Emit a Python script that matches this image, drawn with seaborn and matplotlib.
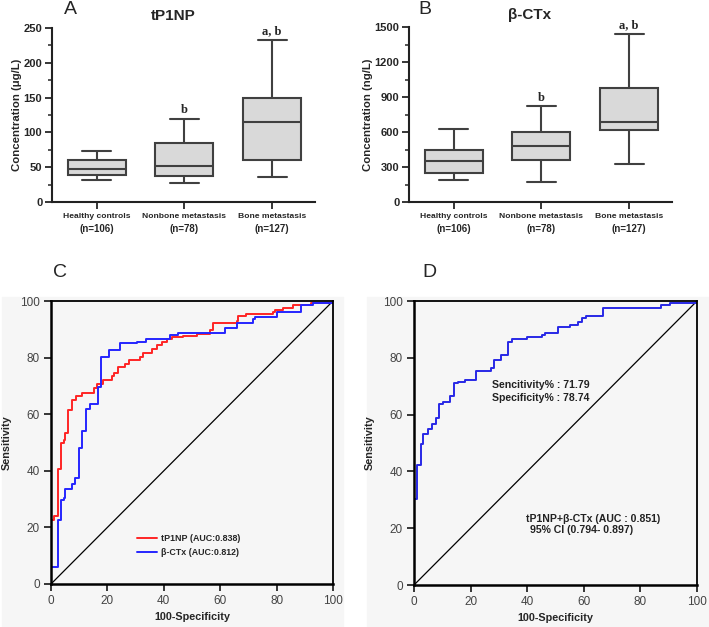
import numpy as np
import pandas as pd
import seaborn as sns
import matplotlib.pyplot as plt
from matplotlib.patches import Rectangle

# ---- data ----
groups = ["Healthy controls", "Nonbone metastasis", "Bone metastasis"]
group_n = ["(n=106)", "(n=78)", "(n=127)"]

# five-number summaries per group: min, Q1, median, Q3, max
tp1np_healthy = [32, 39, 47, 60, 73.5]
tp1np_nonbone = [26.6, 37.7, 51.7, 84.6, 119]
tp1np_bone = [35.6, 60.6, 115, 150, 233]

ctx_healthy = [186, 252, 355, 450, 624]
ctx_nonbone = [169, 361, 481, 596, 819]
ctx_bone = [326, 613, 687, 979, 1443]

# significance marks above each group
tp1np_marks = ["", "b", "a, b"]
ctx_marks = ["", "b", "a, b"]

# ROC curves (100-specificity, sensitivity)
tp1np_fpr = [0, 0, 0.9, 2.4, 3.5, 4.5, 5.0, 6.0, 7.4, 9.0, 11, 15.1, 16.3, 18.6, 21.6, 22.5,
             23.9, 26.3, 27.5, 31.6, 32.8, 35.7, 37.5, 39.3, 41, 42.8, 46.9, 51.7, 56.4, 57.5,
             65.8, 66.4, 69.3, 78.8, 79.4, 82.3, 85.8, 92.3, 100]
tp1np_tpr = [0, 22.6, 24, 40.6, 49.9, 50.8, 53.2, 61.4, 65, 66.4, 67.5, 69.4, 70.8, 72.2, 73.4,
             74.6, 76.7, 77.9, 79.1, 80.2, 81.6, 83.2, 84.4, 85.5, 86.7, 87.2, 87.6, 88.4, 89.8,
             92.1, 93, 94.7, 95.3, 96, 96.8, 97.6, 98.5, 99.2, 100]

ctx_fpr = [0, 0, 2.4, 3.7, 4.5, 5.1, 7.4, 8.6, 9.8, 11, 12.5, 13.9, 16.5, 17.7, 20.4, 24.3,
           30.4, 33.6, 42.2, 45.2, 61.7, 66, 71.7, 72.2, 80, 88.8, 92.9, 100]
ctx_tpr = [0, 6.1, 22.6, 29.6, 30.5, 33.6, 35.3, 37.6, 47.9, 54.1, 61.8, 63.5, 69.6, 80.1, 82.7,
           85.1, 85.6, 86.5, 88, 88.8, 90.4, 92.1, 93.5, 94.5, 96, 98.5, 99.2, 100]

comb_fpr = [0, 0, 0.9, 2.4, 3.3, 5.1, 6.2, 7.6, 8.8, 10.1, 12.7, 14.1, 15.4, 18, 21.9, 27.1,
            28.2, 30.7, 33.3, 34.5, 39.8, 45.1, 46.2, 50.9, 55.1, 57.8, 59.2, 60.9, 66.8, 87.4,
            90.4, 100]
comb_tpr = [0, 30.4, 42.3, 49.6, 53.2, 54.9, 56.6, 58.9, 63.6, 64.6, 66.7, 71, 71.6, 72.2, 75.4,
            76.3, 79.4, 80.9, 85.4, 86.5, 87.4, 88, 88.8, 90.7, 91.5, 92.7, 93.9, 94.7, 97.4,
            98.6, 99.2, 100]
chance = [0, 100]

sns.set_style("ticks")
plt.rcParams['font.family'] = ['Liberation Sans', 'DejaVu Sans']

W, H = 709, 627
fig = plt.figure(figsize=(W / 100, H / 100), dpi=100)


def px_axes(l, t, r, b):
    return fig.add_axes([l / W, 1 - b / H, (r - l) / W, (b - t) / H])


# grey backgrounds behind the ROC panels
panel_bg = "#f6f6f6"
fig.patches.append(Rectangle((2 / W, 0), 341 / W, 330 / H, transform=fig.transFigure,
                             color=panel_bg, zorder=-10))
fig.patches.append(Rectangle((367 / W, 0), 342 / W, 330 / H, transform=fig.transFigure,
                             color=panel_bg, zorder=-10))


def box_panel(ax, stats, marks, ymax, ystep, title, ylabel, ylab_x):
    df = pd.DataFrame({
        "group": np.repeat(groups, 5),
        "value": np.concatenate(stats),
    })
    sns.boxplot(data=df, x="group", y="value", order=groups, whis=(0, 100), width=0.66,
                color="#d9d9d9", linecolor="#404040", linewidth=1.5, ax=ax)
    ax.set_xlim(-0.51, 2.49)
    ax.set_ylim(0, ymax)
    ax.set_yticks(np.arange(0, ymax + 1, ystep))
    ax.set_yticks(np.arange(0, ymax + 1, ystep / 2), minor=True)
    ax.tick_params(axis="y", which="major", length=5, width=1.3, labelsize=8, pad=2)
    ax.tick_params(axis="y", which="minor", length=3, width=1.1)
    ax.tick_params(axis="x", length=5, width=1.3, labelsize=6.1, pad=3)
    for lab in ax.get_xticklabels() + ax.get_yticklabels():
        lab.set_fontweight("bold")
    sns.despine(ax=ax)
    for s in ("left", "bottom"):
        ax.spines[s].set_linewidth(1.5)
        ax.spines[s].set_color("#222222")
    ax.set_xlabel("")
    ax.set_ylabel(ylabel, fontsize=8.2, fontweight="bold")
    ax.yaxis.set_label_coords(ylab_x, 0.5)
    ax.set_title(title, fontsize=11, fontweight="bold", pad=6, x=0.46)
    for i, n in enumerate(group_n):
        ax.text(i, -0.155, n, transform=ax.get_xaxis_transform(), ha="center", va="center",
                fontsize=7, fontweight="bold")
    for i, m in enumerate(marks):
        if m:
            ax.annotate(m, (i, max(stats[i])), xytext=(0, 2), textcoords="offset points",
                        ha="center", va="bottom", fontsize=9, fontweight="bold",
                        family="Liberation Serif")


axA = px_axes(52, 28, 315, 202)
box_panel(axA, [tp1np_healthy, tp1np_nonbone, tp1np_bone], tp1np_marks, 250, 50,
          "tP1NP", "Concentration (μg/L)", -0.115)
axB = px_axes(409, 27, 672, 202)
box_panel(axB, [ctx_healthy, ctx_nonbone, ctx_bone], ctx_marks, 1500, 300,
          "β-CTx", "Concentration (ng/L)", -0.135)


def roc_panel(ax):
    ax.set_facecolor(panel_bg)
    ax.set_xlim(0, 100)
    ax.set_ylim(0, 100)
    ax.set_xticks(np.arange(0, 101, 20))
    ax.set_yticks(np.arange(0, 101, 20))
    ax.tick_params(length=5, width=1.3, labelsize=8.5, labelcolor="#444444", pad=3)
    for s in ax.spines.values():
        s.set_linewidth(1.3)
        s.set_color("black")
    for s in ("left", "bottom"):
        ax.spines[s].set_linewidth(1.8)
    sns.lineplot(x=chance, y=chance, color="black", lw=0.9, ax=ax)
    ax.set_xlabel("100-Specificity", fontsize=7.8, fontweight="bold")
    ax.set_ylabel("Sensitivity", fontsize=7.8, fontweight="bold")
    ax.xaxis.set_label_coords(0.5, -0.099)
    ax.yaxis.set_label_coords(-0.138, 0.5)


axC = px_axes(51, 301, 333, 584)
roc_panel(axC)
sns.lineplot(x=tp1np_fpr, y=tp1np_tpr, drawstyle="steps-post", estimator=None, sort=False,
             color="#ff2525", lw=1.4, ax=axC, label="tP1NP (AUC:0.838)")
sns.lineplot(x=ctx_fpr, y=ctx_tpr, drawstyle="steps-post", estimator=None, sort=False,
             color="#2525ff", lw=1.4, ax=axC, label="β-CTx (AUC:0.812)")
leg = axC.legend(loc="lower left", bbox_to_anchor=(0.305, 0.095), frameon=False,
                 prop={"size": 6.4, "weight": "bold"}, handlelength=2.3, labelspacing=0.6,
                 handletextpad=0.4, borderpad=0, borderaxespad=0)

axD = px_axes(414, 301, 697, 585)
roc_panel(axD)
sns.lineplot(x=comb_fpr, y=comb_tpr, drawstyle="steps-post", estimator=None, sort=False,
             color="#2828e6", lw=1.4, ax=axD)
note = dict(fontsize=7.6, fontweight="bold", va="center", color="#222222")
axD.text(27.4, 70.4, "Sencitivity% : 71.79", **note)
axD.text(27.4, 66.0, "Specificity% : 78.74", **note)
axD.text(39.4, 23.3, "tP1NP+β-CTx (AUC : 0.851)", **note)
axD.text(41.0, 19.2, "95% CI (0.794- 0.897)", **note)

# panel letters
for letter, (x, y) in zip("ABCD", [(70, 10), (425, 10), (60, 273), (429, 273)]):
    fig.text(x / W, 1 - y / H, letter, fontsize=14, ha="center", va="center")

fig.savefig("out.png", dpi=100, facecolor="white")
